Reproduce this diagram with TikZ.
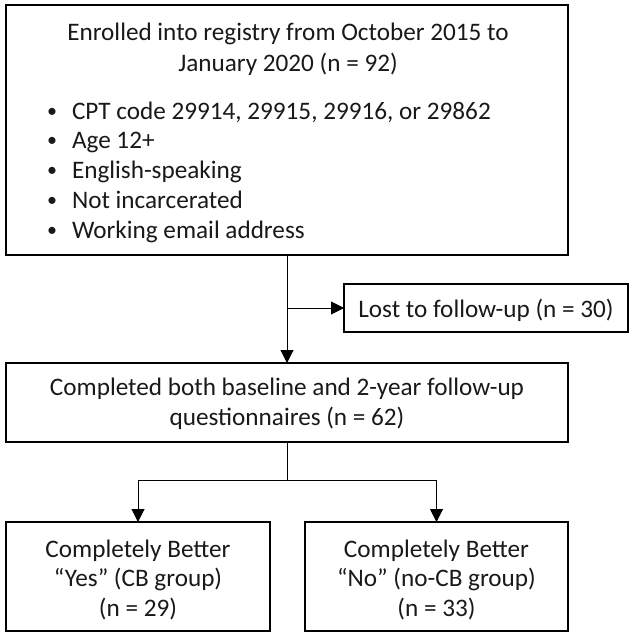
\documentclass[tikz,border=0pt]{standalone}
\usepackage{fontspec}
\setmainfont{Carlito}
\usetikzlibrary{arrows.meta,calc}
\begin{document}
\begin{tikzpicture}[x=1pt,y=-1pt,
  box/.style={draw=black,line width=2pt,rectangle,inner sep=0pt,outer sep=0pt},
  txt/.style={font=\fontsize{25.2}{29.5}\selectfont,inner sep=0pt,outer sep=0pt,anchor=base,text=black!90},
  txtl/.style={txt,anchor=base west},
  bul/.style={font=\fontsize{20}{24}\selectfont,inner sep=0pt,outer sep=0pt,anchor=base,text=black!90},
  arr/.style={draw=black,line width=1pt,-{Triangle[length=13pt,width=13pt]}},
  ln/.style={draw=black,line width=1pt}]
\useasboundingbox (0,0) rectangle (633,638);
% boxes
\node[box,minimum width=562pt,minimum height=250pt] (top) at (287,130) {};
\node[box,minimum width=284pt,minimum height=48pt] (lost) at (486,308) {};
\node[box,minimum width=562pt,minimum height=79pt] (mid) at (287,402.5) {};
\node[box,minimum width=264pt,minimum height=109pt] (bl) at (138,576.5) {};
\node[box,minimum width=263pt,minimum height=109pt] (br) at (436.5,576.5) {};
% texts
\node[txt] (t1) at (288,40) {Enrolled into registry from October 2015 to};
\node[txt] (t2) at (288,71) {January 2020 (n = 92)};
\node[bul] (b1) at (52,117) {•};
\node[txtl] (c1) at (72,119) {CPT code 29914, 29915, 29916, or 29862};
\node[bul] (b2) at (52,146.5) {•};
\node[txtl] (c2) at (72,148.5) {Age 12+};
\node[bul] (b3) at (52,176) {•};
\node[txtl] (c3) at (72,178) {English-speaking};
\node[bul] (b4) at (52,206) {•};
\node[txtl] (c4) at (72,208) {Not incarcerated};
\node[bul] (b5) at (52,236) {•};
\node[txtl] (c5) at (72,238) {Working email address};
\node[txt] (l1) at (486,317) {Lost to follow-up (n = 30)};
\node[txt] (m1) at (287,395) {Completed both baseline and 2-year follow-up};
\node[txt] (m2) at (287,425) {questionnaires (n = 62)};
\node[txt] (y1) at (138,557) {Completely Better};
\node[txt] (y2) at (138,586.5) {“Yes” (CB group)};
\node[txt] (y3) at (138,616) {(n = 29)};
\node[txt] (n1) at (436.5,557) {Completely Better};
\node[txt] (n2) at (436.5,586.5) {“No” (no-CB group)};
\node[txt] (n3) at (436.5,616) {(n = 33)};
% connectors
\coordinate (j1) at (top.south |- lost.west);
\coordinate (j2) at ($(mid.south)+(0,38)$);
\draw[arr] (top.south) -- (mid.north);
\draw[arr] (j1) -- (lost.west);
\draw[ln] (mid.south) -- (j2);
\draw[arr] (j2) -| (bl.north);
\draw[arr] (j2) -| (br.north);
\end{tikzpicture}
\end{document}
